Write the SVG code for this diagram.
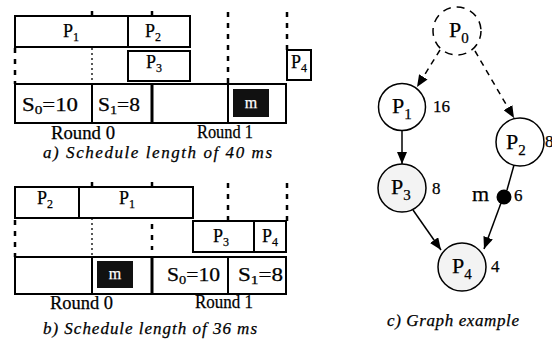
<svg xmlns="http://www.w3.org/2000/svg" width="552" height="342" viewBox="0 0 552 342" font-family="'Liberation Serif', 'DejaVu Serif', 'Times New Roman', serif">
<defs>
<style>
.bx{fill:#fff;stroke:#000;stroke-width:2}
.dv{stroke:#000;stroke-width:2;fill:none}
.thick{stroke:#000;stroke-width:3;fill:none}
.blk{fill:#111}
.g1{stroke:#000;stroke-width:2.5;stroke-dasharray:5 6;fill:none}
.g2{stroke:#000;stroke-width:1.3;stroke-dasharray:2 3;fill:none}
.tk{stroke:#000;stroke-width:2.5;fill:none}
text{font-family:'Liberation Serif','DejaVu Serif','Times New Roman',serif;fill:#000;stroke:#000;stroke-width:0.25}
.t{font-size:18px}
.sub{font-size:12px}
.cap{font-size:17px;font-style:italic}
.mw{font-size:16px;fill:#fff;stroke:#fff}
.n{font-size:22px}
.ns{font-size:15px}
.w{font-size:17px}
.nd{fill:#fff;stroke:#000;stroke-width:1.5}
.nd2{fill:#f3f3f3;stroke:#000;stroke-width:1.5}
.e{stroke:#000;stroke-width:1.5;fill:none}
.ed{stroke:#000;stroke-width:1.5;fill:none;stroke-dasharray:6 5}
</style>
<marker id="ah" viewBox="0 0 12 10" refX="12" refY="5" markerWidth="12" markerHeight="10" markerUnits="userSpaceOnUse" orient="auto">
<path d="M0,0 L12,5 L0,10 Z" fill="#000"/>
</marker>
</defs>

<!-- Part a: schedule 40 ms -->
<g id="schedA">
<g id="guidesA">
<line class="g1" x1="15" y1="48" x2="15" y2="84"/>
<line class="tk" x1="92" y1="11" x2="92" y2="16"/>
<line class="g2" x1="92" y1="48" x2="92" y2="84"/>
<line class="tk" x1="152" y1="11" x2="152" y2="16"/>
<line class="g1" x1="228" y1="12" x2="228" y2="84"/>
<line class="g1" x1="287" y1="12" x2="287" y2="50"/>
</g>
<g id="a-P1"><rect class="bx" x="15" y="16" width="113" height="31"/><text class="t" x="63" y="37">P<tspan class="sub" dy="4">1</tspan></text></g>
<g id="a-P2"><rect class="bx" x="128" y="16" width="62" height="31"/><text class="t" x="145" y="37">P<tspan class="sub" dy="4">2</tspan></text></g>
<g id="a-P3"><rect class="bx" x="128" y="51" width="62" height="30"/><text class="t" x="146" y="68">P<tspan class="sub" dy="4">3</tspan></text></g>
<g id="a-P4"><rect class="bx" x="287" y="50" width="24" height="30"/><text class="t" x="291" y="68">P<tspan class="sub" dy="4">4</tspan></text></g>
<g id="a-slots">
<rect class="bx" x="15" y="84" width="271" height="39"/>
<line class="dv" x1="92" y1="84" x2="92" y2="123"/>
<line class="thick" x1="152" y1="84" x2="152" y2="123"/>
<line class="dv" x1="228" y1="84" x2="228" y2="123"/>
<text class="t" x="22" y="111" textLength="56" lengthAdjust="spacingAndGlyphs">S<tspan class="sub" dy="3">0</tspan><tspan dy="-3">=10</tspan></text>
<text class="t" x="98" y="111" textLength="42" lengthAdjust="spacingAndGlyphs">S<tspan class="sub" dy="3">1</tspan><tspan dy="-3">=8</tspan></text>
<rect class="blk" x="233" y="89" width="36" height="28"/>
<text class="mw" x="251" y="108" text-anchor="middle">m</text>
</g>
<text class="t" x="51" y="139" textLength="64" lengthAdjust="spacingAndGlyphs">Round 0</text>
<text class="t" x="197" y="138" textLength="56" lengthAdjust="spacingAndGlyphs">Round 1</text>
<text class="cap" x="43" y="158" textLength="229" lengthAdjust="spacing">a) Schedule length of 40 ms</text>
</g>

<!-- Part b: schedule 36 ms -->
<g id="schedB">
<g id="guidesB">
<line class="g1" x1="15" y1="220" x2="15" y2="257"/>
<line class="tk" x1="92" y1="182" x2="92" y2="187"/>
<line class="g2" x1="92" y1="218" x2="92" y2="257"/>
<line class="tk" x1="152" y1="182" x2="152" y2="187"/>
<line class="g1" x1="152" y1="224" x2="152" y2="250"/>
<line class="g1" x1="228" y1="183" x2="228" y2="221"/>
<line class="g1" x1="287" y1="183" x2="287" y2="221"/>
</g>
<g id="b-P2"><rect class="bx" x="15" y="187" width="64" height="31"/><text class="t" x="37" y="204">P<tspan class="sub" dy="4">2</tspan></text></g>
<g id="b-P1"><rect class="bx" x="79" y="187" width="114" height="31"/><text class="t" x="119" y="204">P<tspan class="sub" dy="4">1</tspan></text></g>
<g id="b-P3"><rect class="bx" x="193" y="221" width="61" height="31"/><text class="t" x="213" y="242">P<tspan class="sub" dy="4">3</tspan></text></g>
<g id="b-P4"><rect class="bx" x="254" y="221" width="32" height="31"/><text class="t" x="262" y="242">P<tspan class="sub" dy="4">4</tspan></text></g>
<g id="b-slots">
<rect class="bx" x="15" y="257" width="271" height="37"/>
<line class="dv" x1="92" y1="257" x2="92" y2="294"/>
<line class="thick" x1="152" y1="257" x2="152" y2="294"/>
<line class="dv" x1="228" y1="257" x2="228" y2="294"/>
<rect class="blk" x="97" y="261" width="36" height="27"/>
<text class="mw" x="115" y="279" text-anchor="middle">m</text>
<text class="t" x="167" y="281" textLength="53" lengthAdjust="spacingAndGlyphs">S<tspan class="sub" dy="3">0</tspan><tspan dy="-3">=10</tspan></text>
<text class="t" x="238" y="281" textLength="45" lengthAdjust="spacingAndGlyphs">S<tspan class="sub" dy="3">1</tspan><tspan dy="-3">=8</tspan></text>
</g>
<text class="t" x="50" y="309" textLength="63" lengthAdjust="spacingAndGlyphs">Round 0</text>
<text class="t" x="195" y="308" textLength="58" lengthAdjust="spacingAndGlyphs">Round 1</text>
<text class="cap" x="43" y="334" textLength="214" lengthAdjust="spacing">b) Schedule length of 36 ms</text>
</g>

<!-- Part c: graph -->
<g id="connectors">
<line class="ed" x1="440" y1="50" x2="417" y2="87" marker-end="url(#ah)"/>
<line class="ed" x1="475" y1="51" x2="514" y2="118" marker-end="url(#ah)"/>
<line class="e" x1="402" y1="131" x2="402" y2="164" marker-end="url(#ah)"/>
<line class="e" x1="413" y1="210" x2="441" y2="250" marker-end="url(#ah)"/>
<line class="e" x1="514" y1="165" x2="507" y2="190"/>
<line class="e" x1="501" y1="203" x2="484" y2="249" marker-end="url(#ah)"/>
</g>
<g id="P0"><circle cx="457" cy="31" r="24" fill="#fff" stroke="#000" stroke-width="1.5" stroke-dasharray="8 6"/><text class="n" x="449" y="37">P<tspan class="ns" dy="6">0</tspan></text></g>
<g id="P1"><circle class="nd" cx="402" cy="107" r="23.5"/><text class="n" x="392" y="113">P<tspan class="ns" dy="6">1</tspan></text><text class="w" x="433" y="112">16</text></g>
<g id="P2"><circle class="nd" cx="520" cy="142" r="24"/><text class="n" x="506" y="149">P<tspan class="ns" dy="6">2</tspan></text><text class="w" x="545" y="147">8</text></g>
<g id="P3"><circle class="nd2" cx="402" cy="188" r="24"/><text class="n" x="391" y="194">P<tspan class="ns" dy="6">3</tspan></text><text class="w" x="432" y="194">8</text></g>
<g id="m"><circle cx="504" cy="197" r="7.5" fill="#000"/><text class="n" x="472" y="201">m</text><text class="w" x="514" y="201">6</text></g>
<g id="P4"><circle class="nd2" cx="462" cy="267" r="24"/><text class="n" x="452" y="273">P<tspan class="ns" dy="6">4</tspan></text><text class="w" x="491" y="272">4</text></g>
<text class="cap" x="387" y="326" textLength="132" lengthAdjust="spacing">c) Graph example</text>
</svg>
